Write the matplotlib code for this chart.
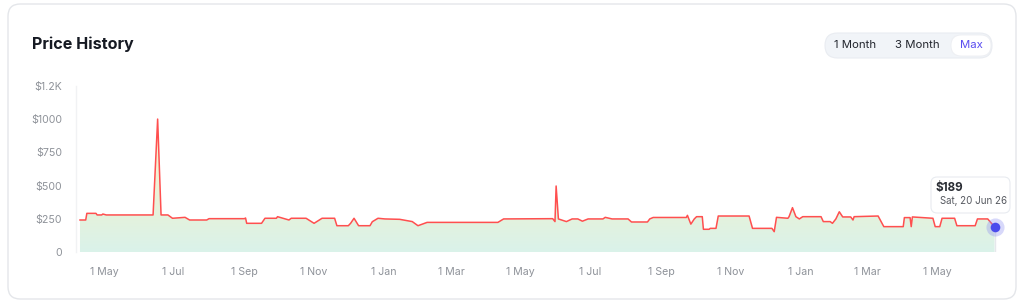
import matplotlib
matplotlib.use("Agg")
import matplotlib.pyplot as plt
import matplotlib.dates as mdates
from matplotlib.patches import FancyBboxPatch
from matplotlib.colors import LinearSegmentedColormap
from matplotlib.ticker import FuncFormatter, FixedLocator
import numpy as np
import pandas as pd

# ---------------- data ----------------
dates = [
    "2024-04-10", "2024-04-15", "2024-04-16", "2024-04-24", "2024-04-25", "2024-04-29",
    "2024-04-30", "2024-05-03", "2024-06-13", "2024-06-17", "2024-06-20", "2024-06-26",
    "2024-06-30", "2024-07-11", "2024-07-15", "2024-07-30", "2024-08-01", "2024-09-01",
    "2024-09-02", "2024-09-03", "2024-09-16", "2024-09-19", "2024-09-29", "2024-09-30",
    "2024-10-10", "2024-10-12", "2024-10-25", "2024-11-01", "2024-11-08", "2024-11-19",
    "2024-11-21", "2024-12-01", "2024-12-03", "2024-12-06", "2024-12-10", "2024-12-20",
    "2024-12-22", "2024-12-27", "2025-01-02", "2025-01-15", "2025-01-26", "2025-01-31",
    "2025-02-08", "2025-04-11", "2025-04-16", "2025-05-29", "2025-05-31", "2025-06-01",
    "2025-06-03", "2025-06-10", "2025-06-15", "2025-06-20", "2025-06-24", "2025-06-29",
    "2025-07-12", "2025-07-14", "2025-07-20", "2025-08-03", "2025-08-06", "2025-08-20",
    "2025-08-22", "2025-08-25", "2025-09-23", "2025-09-24", "2025-09-27", "2025-09-30",
    "2025-10-02", "2025-10-07", "2025-10-08", "2025-10-13", "2025-10-14", "2025-10-19",
    "2025-10-21", "2025-11-17", "2025-11-20", "2025-12-07", "2025-12-09", "2025-12-11",
    "2025-12-21", "2025-12-22", "2025-12-25", "2025-12-28", "2025-12-31", "2026-01-03",
    "2026-01-19", "2026-01-21", "2026-01-27", "2026-01-29", "2026-02-01", "2026-02-04",
    "2026-02-07", "2026-02-14", "2026-02-16", "2026-02-17", "2026-03-10", "2026-03-15",
    "2026-04-01", "2026-04-02", "2026-04-07", "2026-04-08", "2026-04-09", "2026-04-27",
    "2026-04-29", "2026-05-03", "2026-05-05", "2026-05-16", "2026-05-18", "2026-06-03",
    "2026-06-05", "2026-06-14", "2026-06-20",
]
prices = [
    241, 241, 291, 291, 279, 279,
    286, 279, 279, 1001, 279, 279,
    254, 261, 241, 241, 251, 251,
    256, 216, 216, 254, 254, 266,
    241, 254, 254, 216, 254, 254,
    198, 198, 216, 254, 198, 198,
    228, 254, 249, 246, 229, 198,
    223, 223, 249, 251, 229, 497,
    249, 229, 249, 249, 232, 249,
    249, 261, 249, 249, 226, 226,
    249, 260, 260, 276, 210, 249,
    266, 266, 171, 171, 178, 178,
    271, 271, 178, 178, 153, 261,
    254, 266, 334, 266, 249, 266,
    266, 229, 229, 216, 249, 303,
    264, 264, 241, 266, 271, 191,
    191, 259, 259, 191, 264, 254,
    191, 191, 254, 254, 198, 198,
    249, 249, 189,
]
y_ticks = [0, 250, 500, 750, 1000, 1250]
y_tick_labels = ["0", "$250", "$500", "$750", "$1000", "$1.2K"]
x_range = ["2024-04-06T12:00", "2026-06-23T00:00"]
tooltip_price = "$189"
tooltip_date = "Sat, 20 Jun 26"
title = "Price History"
buttons = ["1 Month", "3 Month", "Max"]

# ---------------- figure ----------------
W, H = 1024, 306
fig = plt.figure(figsize=(W / 100, H / 100), dpi=100)
fig.patch.set_facecolor("white")
FONT = ["Inter", "DejaVu Sans"]


def fx(px):
    return px / W


def fy(py):
    return 1 - py / H


# card
card = FancyBboxPatch((fx(8), fy(299)), fx(1016) - fx(8), fy(4) - fy(299),
                      boxstyle="round,pad=0,rounding_size=0.012",
                      transform=fig.transFigure, facecolor="white",
                      edgecolor="#e4e6ea", linewidth=1.0, mutation_aspect=W / H,
                      zorder=-10)
fig.patches.append(card)

fig.text(fx(32), fy(44), title, fontsize=11.6, fontweight="bold",
         family=FONT, color="#161a23", va="center", ha="left")

# button group
grp = FancyBboxPatch((fx(825), fy(58)), fx(992) - fx(825), fy(33) - fy(58),
                     boxstyle="round,pad=0,rounding_size=0.0122",
                     transform=fig.transFigure, facecolor="#f1f4f8",
                     edgecolor="#e9ecf1", linewidth=0.8, mutation_aspect=W / H,
                     zorder=-9)
fig.patches.append(grp)
sel = FancyBboxPatch((fx(951), fy(56)), fx(991) - fx(951), fy(35) - fy(56),
                     boxstyle="round,pad=0,rounding_size=0.0100",
                     transform=fig.transFigure, facecolor="white",
                     edgecolor="#eceef2", linewidth=0.6, mutation_aspect=W / H,
                     zorder=-8)
fig.patches.append(sel)
for label, cx, col in zip(buttons, [855, 917, 971], ["#23262e", "#23262e", "#5b4ef0"]):
    fig.text(fx(cx), fy(45.5), label, fontsize=8.2, family=FONT, color=col,
             ha="center", va="center")

# ---------------- axes ----------------
ax = fig.add_axes([fx(76), fy(252), fx(998) - fx(76), fy(86) - fy(252)])
ax.set_facecolor("none")

x = pd.to_datetime(dates)
y = np.array(prices, dtype=float)
xn = mdates.date2num(x)
x0, x1 = mdates.date2num(pd.to_datetime(x_range, format="ISO8601"))

coll = ax.fill_between(xn, 0, y, facecolor="none", edgecolor="none")
cmap = LinearSegmentedColormap.from_list(
    "g", [(0.0, "#daf3ea"), (0.22, "#e4f2dd"), (0.5, "#f3f2d4"), (1.0, "#fff1c6")])
grad = np.linspace(0, 1, 256).reshape(-1, 1)
im = ax.imshow(grad, extent=[x0, x1, 0, 1250], origin="lower", aspect="auto",
               cmap=cmap, interpolation="bilinear", zorder=1)
im.set_clip_path(coll.get_paths()[0], transform=coll.get_transform())

ax.plot(xn, y, color="#ff4f4f", lw=1.1, solid_joinstyle="round", zorder=3)

# crosshair + dot at last point
ax.plot([xn[-1], xn[-1]], [0, y[-1]], color="#e6e8ec", lw=1.0, zorder=2)
ax.scatter([xn[-1]], [y[-1]], s=170, color="#8f90f2", alpha=0.35, zorder=4,
           linewidths=0, clip_on=False)
ax.scatter([xn[-1]], [y[-1]], s=48, color="#4b4bec", zorder=5, linewidths=0,
           clip_on=False)

ax.set_xlim(x0, x1)
ax.set_ylim(0, 1250)

# ticks
ax.yaxis.set_major_locator(FixedLocator(y_ticks))
ax.set_yticklabels(y_tick_labels)
ax.xaxis.set_major_locator(mdates.MonthLocator(bymonth=[1, 3, 5, 7, 9, 11]))
ax.xaxis.set_major_formatter(FuncFormatter(
    lambda v, p: f"{mdates.num2date(v).day} {mdates.num2date(v):%b}"))
ax.tick_params(axis="both", length=0, labelsize=7.6, labelcolor="#8e9299")
ax.tick_params(axis="x", pad=11)
ax.tick_params(axis="y", pad=10)
for lab in ax.get_xticklabels() + ax.get_yticklabels():
    lab.set_family(FONT)
for s in ["top", "right", "bottom"]:
    ax.spines[s].set_visible(False)
ax.spines["left"].set_color("#f1f2f4")
ax.spines["left"].set_linewidth(1.0)

# tooltip
tip = FancyBboxPatch((fx(931), fy(213)), fx(1010) - fx(931), fy(177) - fy(213),
                     boxstyle="round,pad=0,rounding_size=0.006",
                     transform=fig.transFigure, facecolor="white",
                     edgecolor="#e8ebf0", linewidth=0.8, mutation_aspect=W / H,
                     zorder=10)
fig.patches.append(tip)
fig.text(fx(936), fy(187.5), tooltip_price, fontsize=8.4, fontweight="bold",
         family=FONT, color="#2a2d34", ha="left", va="center", zorder=11)
fig.text(fx(939.5), fy(201), tooltip_date, fontsize=7.0,
         family=FONT, color="#55585f", ha="left", va="center", zorder=11)

fig.savefig("out.png", dpi=100, facecolor="white")
